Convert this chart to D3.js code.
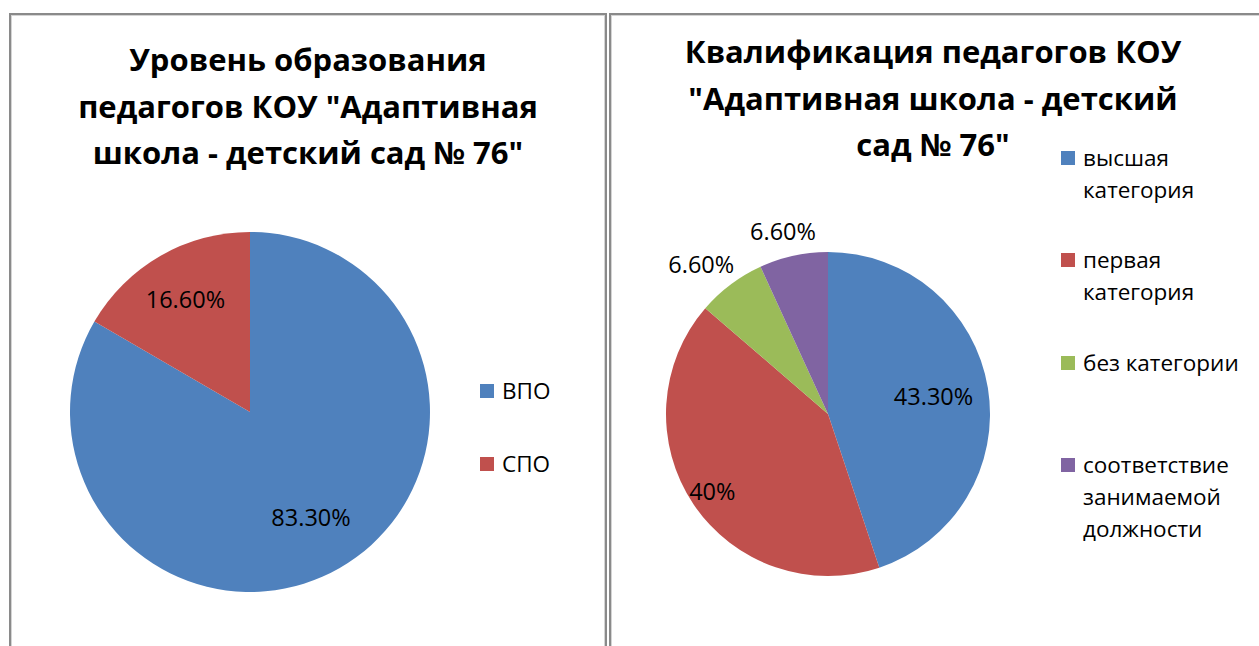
<!DOCTYPE html>
<html>
<head>
<meta charset="utf-8">
<script src="https://cdn.jsdelivr.net/npm/d3@7"></script>
<style>
  body { margin: 0; background: #fff; }
  svg text { font-family: "Open Sans", "Noto Sans", sans-serif; fill: #000; }
</style>
</head>
<body>
<div id="chart"></div>
<script>
// left chart data
const eduTitle = ["Уровень образования", "педагогов КОУ \"Адаптивная", "школа - детский сад № 76\""];
const eduCategories = ["ВПО", "СПО"];
const eduValues = [83.3, 16.6];
const eduLabels = ["83.30%", "16.60%"];

// right chart data
const qualTitle = ["Квалификация педагогов КОУ", "\"Адаптивная школа - детский", "сад № 76\""];
const qualCategories = [["высшая", "категория"], ["первая", "категория"], ["без категории"], ["соответствие", "занимаемой", "должности"]];
const qualValues = [43.3, 40, 6.6, 6.6];
const qualLabels = ["43.30%", "40%", "6.60%", "6.60%"];

const colors = ["#4F81BD", "#C0504D", "#9BBB59", "#8064A2"];

const width = 1259, height = 646;

const svg = d3.select("#chart")
  .append("svg")
  .attr("width", width)
  .attr("height", height);

// panel frames
const panels = [{x: 10, w: 596}, {x: 610, w: 700}];
panels.forEach(p => {
  svg.append("rect")
    .attr("x", p.x).attr("y", 14)
    .attr("width", p.w).attr("height", 700)
    .attr("fill", "none")
    .attr("stroke", "#8a8a8a")
    .attr("stroke-width", 2);
  svg.append("rect")
    .attr("x", p.x + 1.5).attr("y", 15.5)
    .attr("width", p.w - 3).attr("height", 700)
    .attr("fill", "none")
    .attr("stroke", "#d4d4d4")
    .attr("stroke-width", 1);
});

const drawPie = (opts) => {
  const g = svg.append("g")
    .attr("transform", `translate(${opts.cx}, ${opts.cy})`);

  const pie = d3.pie().sort(null)(opts.values);
  const arc = d3.arc().innerRadius(0).outerRadius(opts.r);
  const total = d3.sum(opts.values);

  g.selectAll("path")
    .data(pie)
    .enter().append("path")
    .attr("d", arc)
    .attr("fill", (d, i) => colors[i]);

  // data labels: inside for big slices, outside for small ones
  g.selectAll("text.lbl")
    .data(pie)
    .enter().append("text")
    .attr("class", "lbl")
    .attr("text-anchor", "middle")
    .attr("dy", "0.35em")
    .style("font-size", "23.5px")
    .attr("transform", (d, i) => {
      const a = (d.startAngle + d.endAngle) / 2;
      const sx = Math.sin(a), sy = -Math.cos(a);
      if (d.data / total < 0.1) {
        const rr = opts.r * 1.08;
        return `translate(${sx * rr + sx * 36}, ${sy * rr + sy * 12})`;
      }
      const rr = opts.r * opts.inside[i];
      return `translate(${sx * rr}, ${sy * rr})`;
    })
    .text((d, i) => opts.labels[i]);
};

const drawTitle = (lines, cx, y0) => {
  svg.append("g").selectAll("text")
    .data(lines)
    .enter().append("text")
    .attr("x", cx)
    .attr("y", (d, i) => y0 + i * 46.5)
    .attr("text-anchor", "middle")
    .style("font-size", "31px")
    .style("font-weight", "bold")
    .text(d => d);
};

const drawLegend = (items, x, ys) => {
  const g = svg.append("g");
  items.forEach((lines, i) => {
    g.append("rect")
      .attr("x", x).attr("y", ys[i])
      .attr("width", 14).attr("height", 14)
      .attr("fill", colors[i]);
    const t = g.append("text")
      .attr("x", x + 22)
      .attr("y", ys[i] + 15)
      .style("font-size", "22.5px");
    [].concat(lines).forEach((ln, j) => {
      t.append("tspan").attr("x", x + 22).attr("y", ys[i] + 15 + j * 32).text(ln);
    });
  });
};

drawTitle(eduTitle, 308, 71);
drawPie({cx: 250, cy: 412, r: 180, values: eduValues, labels: eduLabels, inside: [0.68, 0.72]});
drawLegend(eduCategories, 480, [384, 457]);

drawTitle(qualTitle, 933, 63);
drawPie({cx: 828, cy: 414, r: 162, values: qualValues, labels: qualLabels, inside: [0.66, 0.86]});
drawLegend(qualCategories, 1061, [151, 253, 356, 458]);
</script>
</body>
</html>
